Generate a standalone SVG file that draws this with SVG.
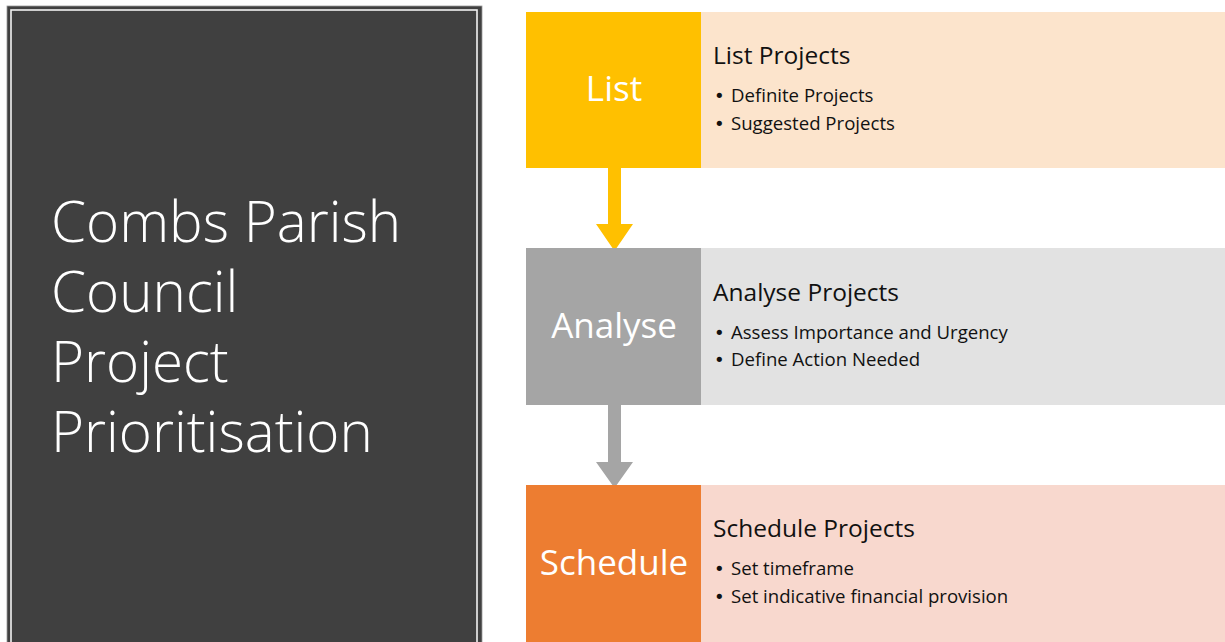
<svg xmlns="http://www.w3.org/2000/svg" width="1225" height="642" viewBox="0 0 1225 642">
<style>
.title{font-family:"Open Sans","Liberation Sans",sans-serif;font-size:56.5px;fill:#ffffff;font-weight:300}
.step{font-family:"Open Sans","Liberation Sans",sans-serif;font-size:35px;fill:#ffffff;text-anchor:middle}
.head{font-family:"Open Sans","Liberation Sans",sans-serif;font-size:24.5px;fill:#111111}
.item{font-family:"Open Sans","Liberation Sans",sans-serif;font-size:18.6px;fill:#111111}
.bul{font-family:"DejaVu Sans","Liberation Sans",sans-serif;font-size:18px;fill:#111111}
</style>
<rect width="1225" height="642" fill="#ffffff"/>
<g id="title-panel">
<rect x="7" y="6" width="475" height="640" fill="#404040" stroke="#9a9a9a" stroke-width="0.8"/>
<rect x="11" y="10" width="466" height="640" fill="none" stroke="#f2f2f2" stroke-width="1.6"/>
<text class="title" x="51" y="242"><tspan x="51" y="242">Combs Parish</tspan><tspan x="51" y="312">Council</tspan><tspan x="51" y="382">Project</tspan><tspan x="51" y="452">Prioritisation</tspan></text>
</g>
<g id="connectors">
<path d="M608,168 L621,168 L621,224 L633,224 L614.5,251 L596,224 L608,224 Z" fill="#FFC000"/>
<path d="M608,405 L621,405 L621,462 L633,462 L614.5,488 L596,462 L608,462 Z" fill="#A5A5A5"/>
</g>
<g id="list">
<rect x="701" y="12" width="524" height="156" fill="#FCE4CC"/>
<rect x="526" y="12" width="175" height="156" fill="#FFC000"/>
<text class="step" x="614" y="101">List</text>
<text class="head" x="713" y="64">List Projects</text>
<text class="bul" x="714" y="102">•</text><text class="item" x="731" y="102">Definite Projects</text>
<text class="bul" x="714" y="130">•</text><text class="item" x="731" y="130">Suggested Projects</text>
</g>
<g id="analyse">
<rect x="701" y="248" width="524" height="157" fill="#E2E2E2"/>
<rect x="526" y="248" width="175" height="157" fill="#A5A5A5"/>
<text class="step" x="614" y="338">Analyse</text>
<text class="head" x="713" y="301">Analyse Projects</text>
<text class="bul" x="714" y="339">•</text><text class="item" x="731" y="339">Assess Importance and Urgency</text>
<text class="bul" x="714" y="366">•</text><text class="item" x="731" y="366">Define Action Needed</text>
</g>
<g id="schedule">
<rect x="701" y="485" width="524" height="157" fill="#F8D8CE"/>
<rect x="526" y="485" width="175" height="157" fill="#ED7D31"/>
<text class="step" x="614" y="575">Schedule</text>
<text class="head" x="713" y="537">Schedule Projects</text>
<text class="bul" x="714" y="575">•</text><text class="item" x="731" y="575">Set timeframe</text>
<text class="bul" x="714" y="603">•</text><text class="item" x="731" y="603">Set indicative financial provision</text>
</g>
</svg>
